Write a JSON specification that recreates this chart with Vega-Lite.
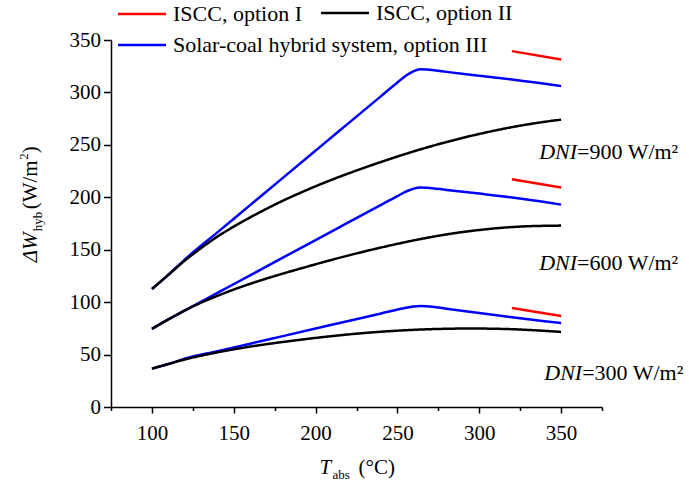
{
  "$schema": "https://vega.github.io/schema/vega-lite/v6.json",
  "width": 491,
  "height": 367,
  "autosize": {"type": "none"},
  "padding": {"left": 111, "top": 40, "right": 87, "bottom": 81},
  "background": "white",
  "config": {
    "view": {"stroke": null},
    "font": "Liberation Serif",
    "axis": {
      "labelFont": "Liberation Serif",
      "labelFontSize": 21,
      "labelColor": "black",
      "domainColor": "black",
      "domainWidth": 1.5,
      "tickColor": "black",
      "tickWidth": 1.5,
      "grid": false,
      "title": null
    },
    "legend": {
      "orient": "none",
      "direction": "vertical",
      "symbolType": "M-3,0H3",
      "symbolSize": 256,
      "symbolStrokeWidth": 2.5,
      "labelFont": "Liberation Serif",
      "labelFontSize": 22,
      "labelColor": "black",
      "labelLimit": 0,
      "rowPadding": 9,
      "labelOffset": 20,
      "padding": 0
    }
  },
  "datasets": {
    "lines": [
      {"T":100,"v":112.5,"dni":900,"option":"Solar-coal hybrid system, option III"},
      {"T":110,"v":126,"dni":900,"option":"Solar-coal hybrid system, option III"},
      {"T":120,"v":140.5,"dni":900,"option":"Solar-coal hybrid system, option III"},
      {"T":140,"v":166.5,"dni":900,"option":"Solar-coal hybrid system, option III"},
      {"T":160,"v":192.5,"dni":900,"option":"Solar-coal hybrid system, option III"},
      {"T":180,"v":218.5,"dni":900,"option":"Solar-coal hybrid system, option III"},
      {"T":200,"v":244.5,"dni":900,"option":"Solar-coal hybrid system, option III"},
      {"T":220,"v":270.5,"dni":900,"option":"Solar-coal hybrid system, option III"},
      {"T":240,"v":296.5,"dni":900,"option":"Solar-coal hybrid system, option III"},
      {"T":250,"v":309.5,"dni":900,"option":"Solar-coal hybrid system, option III"},
      {"T":256,"v":316.8,"dni":900,"option":"Solar-coal hybrid system, option III"},
      {"T":260,"v":320.3,"dni":900,"option":"Solar-coal hybrid system, option III"},
      {"T":264,"v":322,"dni":900,"option":"Solar-coal hybrid system, option III"},
      {"T":268,"v":321.8,"dni":900,"option":"Solar-coal hybrid system, option III"},
      {"T":280,"v":319.6,"dni":900,"option":"Solar-coal hybrid system, option III"},
      {"T":300,"v":316,"dni":900,"option":"Solar-coal hybrid system, option III"},
      {"T":320,"v":312.4,"dni":900,"option":"Solar-coal hybrid system, option III"},
      {"T":340,"v":308.3,"dni":900,"option":"Solar-coal hybrid system, option III"},
      {"T":350,"v":306,"dni":900,"option":"Solar-coal hybrid system, option III"},

      {"T":100,"v":74.5,"dni":600,"option":"Solar-coal hybrid system, option III"},
      {"T":110,"v":83.5,"dni":600,"option":"Solar-coal hybrid system, option III"},
      {"T":120,"v":92,"dni":600,"option":"Solar-coal hybrid system, option III"},
      {"T":140,"v":108.8,"dni":600,"option":"Solar-coal hybrid system, option III"},
      {"T":160,"v":125.6,"dni":600,"option":"Solar-coal hybrid system, option III"},
      {"T":180,"v":142.4,"dni":600,"option":"Solar-coal hybrid system, option III"},
      {"T":200,"v":159.2,"dni":600,"option":"Solar-coal hybrid system, option III"},
      {"T":220,"v":176,"dni":600,"option":"Solar-coal hybrid system, option III"},
      {"T":240,"v":192.8,"dni":600,"option":"Solar-coal hybrid system, option III"},
      {"T":250,"v":201.2,"dni":600,"option":"Solar-coal hybrid system, option III"},
      {"T":256,"v":206,"dni":600,"option":"Solar-coal hybrid system, option III"},
      {"T":260,"v":208.3,"dni":600,"option":"Solar-coal hybrid system, option III"},
      {"T":264,"v":209.4,"dni":600,"option":"Solar-coal hybrid system, option III"},
      {"T":268,"v":209.2,"dni":600,"option":"Solar-coal hybrid system, option III"},
      {"T":280,"v":207,"dni":600,"option":"Solar-coal hybrid system, option III"},
      {"T":300,"v":203.5,"dni":600,"option":"Solar-coal hybrid system, option III"},
      {"T":320,"v":199.8,"dni":600,"option":"Solar-coal hybrid system, option III"},
      {"T":340,"v":195.5,"dni":600,"option":"Solar-coal hybrid system, option III"},
      {"T":350,"v":193,"dni":600,"option":"Solar-coal hybrid system, option III"},

      {"T":100,"v":36.6,"dni":300,"option":"Solar-coal hybrid system, option III"},
      {"T":110,"v":41,"dni":300,"option":"Solar-coal hybrid system, option III"},
      {"T":120,"v":46,"dni":300,"option":"Solar-coal hybrid system, option III"},
      {"T":140,"v":53.2,"dni":300,"option":"Solar-coal hybrid system, option III"},
      {"T":160,"v":60.4,"dni":300,"option":"Solar-coal hybrid system, option III"},
      {"T":180,"v":67.6,"dni":300,"option":"Solar-coal hybrid system, option III"},
      {"T":200,"v":74.8,"dni":300,"option":"Solar-coal hybrid system, option III"},
      {"T":220,"v":82,"dni":300,"option":"Solar-coal hybrid system, option III"},
      {"T":240,"v":89.2,"dni":300,"option":"Solar-coal hybrid system, option III"},
      {"T":256,"v":94.8,"dni":300,"option":"Solar-coal hybrid system, option III"},
      {"T":260,"v":95.9,"dni":300,"option":"Solar-coal hybrid system, option III"},
      {"T":264,"v":96.4,"dni":300,"option":"Solar-coal hybrid system, option III"},
      {"T":268,"v":96.1,"dni":300,"option":"Solar-coal hybrid system, option III"},
      {"T":280,"v":93.7,"dni":300,"option":"Solar-coal hybrid system, option III"},
      {"T":300,"v":89.6,"dni":300,"option":"Solar-coal hybrid system, option III"},
      {"T":320,"v":85.6,"dni":300,"option":"Solar-coal hybrid system, option III"},
      {"T":340,"v":81.8,"dni":300,"option":"Solar-coal hybrid system, option III"},
      {"T":350,"v":80,"dni":300,"option":"Solar-coal hybrid system, option III"},

      {"T":100,"v":112.5,"dni":900,"option":"ISCC, option II"},
      {"T":110,"v":126,"dni":900,"option":"ISCC, option II"},
      {"T":120,"v":139.5,"dni":900,"option":"ISCC, option II"},
      {"T":130,"v":151.5,"dni":900,"option":"ISCC, option II"},
      {"T":140,"v":162.5,"dni":900,"option":"ISCC, option II"},
      {"T":150,"v":172,"dni":900,"option":"ISCC, option II"},
      {"T":160,"v":180.8,"dni":900,"option":"ISCC, option II"},
      {"T":170,"v":189,"dni":900,"option":"ISCC, option II"},
      {"T":180,"v":196.7,"dni":900,"option":"ISCC, option II"},
      {"T":190,"v":203.8,"dni":900,"option":"ISCC, option II"},
      {"T":200,"v":210.5,"dni":900,"option":"ISCC, option II"},
      {"T":210,"v":216.8,"dni":900,"option":"ISCC, option II"},
      {"T":220,"v":222.7,"dni":900,"option":"ISCC, option II"},
      {"T":230,"v":228.3,"dni":900,"option":"ISCC, option II"},
      {"T":240,"v":233.7,"dni":900,"option":"ISCC, option II"},
      {"T":250,"v":238.9,"dni":900,"option":"ISCC, option II"},
      {"T":260,"v":243.8,"dni":900,"option":"ISCC, option II"},
      {"T":270,"v":248.4,"dni":900,"option":"ISCC, option II"},
      {"T":280,"v":252.7,"dni":900,"option":"ISCC, option II"},
      {"T":290,"v":256.7,"dni":900,"option":"ISCC, option II"},
      {"T":300,"v":260.4,"dni":900,"option":"ISCC, option II"},
      {"T":310,"v":263.8,"dni":900,"option":"ISCC, option II"},
      {"T":320,"v":266.9,"dni":900,"option":"ISCC, option II"},
      {"T":330,"v":269.6,"dni":900,"option":"ISCC, option II"},
      {"T":340,"v":272,"dni":900,"option":"ISCC, option II"},
      {"T":350,"v":274,"dni":900,"option":"ISCC, option II"},

      {"T":100,"v":74.5,"dni":600,"option":"ISCC, option II"},
      {"T":110,"v":83.5,"dni":600,"option":"ISCC, option II"},
      {"T":120,"v":92,"dni":600,"option":"ISCC, option II"},
      {"T":130,"v":99.5,"dni":600,"option":"ISCC, option II"},
      {"T":140,"v":106,"dni":600,"option":"ISCC, option II"},
      {"T":150,"v":112,"dni":600,"option":"ISCC, option II"},
      {"T":160,"v":117.5,"dni":600,"option":"ISCC, option II"},
      {"T":170,"v":122.5,"dni":600,"option":"ISCC, option II"},
      {"T":180,"v":127.2,"dni":600,"option":"ISCC, option II"},
      {"T":190,"v":131.7,"dni":600,"option":"ISCC, option II"},
      {"T":200,"v":136.1,"dni":600,"option":"ISCC, option II"},
      {"T":210,"v":140.4,"dni":600,"option":"ISCC, option II"},
      {"T":220,"v":144.5,"dni":600,"option":"ISCC, option II"},
      {"T":230,"v":148.4,"dni":600,"option":"ISCC, option II"},
      {"T":240,"v":152.1,"dni":600,"option":"ISCC, option II"},
      {"T":250,"v":155.6,"dni":600,"option":"ISCC, option II"},
      {"T":260,"v":158.9,"dni":600,"option":"ISCC, option II"},
      {"T":270,"v":161.9,"dni":600,"option":"ISCC, option II"},
      {"T":280,"v":164.6,"dni":600,"option":"ISCC, option II"},
      {"T":290,"v":166.9,"dni":600,"option":"ISCC, option II"},
      {"T":300,"v":168.8,"dni":600,"option":"ISCC, option II"},
      {"T":310,"v":170.4,"dni":600,"option":"ISCC, option II"},
      {"T":320,"v":171.6,"dni":600,"option":"ISCC, option II"},
      {"T":330,"v":172.4,"dni":600,"option":"ISCC, option II"},
      {"T":340,"v":172.8,"dni":600,"option":"ISCC, option II"},
      {"T":350,"v":173,"dni":600,"option":"ISCC, option II"},

      {"T":100,"v":36.6,"dni":300,"option":"ISCC, option II"},
      {"T":110,"v":41,"dni":300,"option":"ISCC, option II"},
      {"T":120,"v":45.3,"dni":300,"option":"ISCC, option II"},
      {"T":130,"v":48.9,"dni":300,"option":"ISCC, option II"},
      {"T":140,"v":52.1,"dni":300,"option":"ISCC, option II"},
      {"T":150,"v":55,"dni":300,"option":"ISCC, option II"},
      {"T":160,"v":57.6,"dni":300,"option":"ISCC, option II"},
      {"T":170,"v":59.9,"dni":300,"option":"ISCC, option II"},
      {"T":180,"v":62,"dni":300,"option":"ISCC, option II"},
      {"T":190,"v":64,"dni":300,"option":"ISCC, option II"},
      {"T":200,"v":65.9,"dni":300,"option":"ISCC, option II"},
      {"T":210,"v":67.6,"dni":300,"option":"ISCC, option II"},
      {"T":220,"v":69.2,"dni":300,"option":"ISCC, option II"},
      {"T":230,"v":70.6,"dni":300,"option":"ISCC, option II"},
      {"T":240,"v":71.8,"dni":300,"option":"ISCC, option II"},
      {"T":250,"v":72.8,"dni":300,"option":"ISCC, option II"},
      {"T":260,"v":73.6,"dni":300,"option":"ISCC, option II"},
      {"T":270,"v":74.2,"dni":300,"option":"ISCC, option II"},
      {"T":280,"v":74.6,"dni":300,"option":"ISCC, option II"},
      {"T":290,"v":74.8,"dni":300,"option":"ISCC, option II"},
      {"T":300,"v":74.8,"dni":300,"option":"ISCC, option II"},
      {"T":310,"v":74.6,"dni":300,"option":"ISCC, option II"},
      {"T":320,"v":74.2,"dni":300,"option":"ISCC, option II"},
      {"T":330,"v":73.5,"dni":300,"option":"ISCC, option II"},
      {"T":340,"v":72.6,"dni":300,"option":"ISCC, option II"},
      {"T":350,"v":71.6,"dni":300,"option":"ISCC, option II"},

      {"T":320,"v":339.4,"dni":900,"option":"ISCC, option I"},
      {"T":350,"v":331.5,"dni":900,"option":"ISCC, option I"},
      {"T":320,"v":217.3,"dni":600,"option":"ISCC, option I"},
      {"T":350,"v":209.4,"dni":600,"option":"ISCC, option I"},
      {"T":320,"v":94.5,"dni":300,"option":"ISCC, option I"},
      {"T":350,"v":86.8,"dni":300,"option":"ISCC, option I"}
    ],
    "labels": [
      {"T":359.8,"v":243,"label":"=900 W/m²"},
      {"T":359.8,"v":137,"label":"=600 W/m²"},
      {"T":362.9,"v":32.1,"label":"=300 W/m²"}
    ]
  },
  "layer": [
    {
      "data": {"name": "lines"},
      "transform": [{"filter": "datum.option === 'Solar-coal hybrid system, option III'"}],
      "mark": {"type": "line", "strokeWidth": 2.5, "interpolate": "monotone"},
      "encoding": {
        "x": {"field": "T", "type": "quantitative",
              "scale": {"domain": [75, 375], "nice": false, "zero": false},
              "axis": {"values": [75,100,125,150,175,200,225,250,275,300,325,350,375],
                       "labelExpr": "datum.value % 50 === 0 ? datum.label : ''",
                       "tickSize": {"condition": {"test": "datum.value % 50 !== 0", "value": 3.5}, "value": 6},
                       "labelPadding": 9, "labelFlush": false, "labelOverlap": false}},
        "y": {"field": "v", "type": "quantitative",
              "scale": {"domain": [0, 350], "nice": false},
              "axis": {"values": [0,25,50,75,100,125,150,175,200,225,250,275,300,325,350],
                       "labelExpr": "datum.value % 50 === 0 ? datum.label : ''",
                       "tickSize": {"condition": {"test": "datum.value % 50 !== 0", "value": 4}, "value": 7.5},
                       "labelPadding": 3, "labelFlush": false, "labelOverlap": false}},
        "color": {"field": "option", "type": "nominal",
                  "scale": {"domain": ["ISCC, option I", "Solar-coal hybrid system, option III"],
                            "range": ["#ff0000", "#0000ff"]},
                  "legend": {"title": null, "legendX": 20, "legendY": -37}},
        "detail": {"field": "dni"}
      }
    },
    {
      "data": {"name": "lines"},
      "transform": [{"filter": "datum.option === 'ISCC, option II'"}],
      "mark": {"type": "line", "strokeWidth": 2.5, "interpolate": "monotone", "color": "black"},
      "encoding": {
        "x": {"field": "T", "type": "quantitative"},
        "y": {"field": "v", "type": "quantitative"},
        "strokeDash": {"field": "option", "type": "nominal",
                       "scale": {"domain": ["ISCC, option II"], "range": [[1, 0]]},
                       "legend": {"title": null, "legendX": 223, "legendY": -38, "symbolStrokeColor": "black"}},
        "detail": {"field": "dni"}
      }
    },
    {
      "data": {"name": "lines"},
      "transform": [{"filter": "datum.option === 'ISCC, option I'"}],
      "mark": {"type": "line", "strokeWidth": 2.5},
      "encoding": {
        "x": {"field": "T", "type": "quantitative"},
        "y": {"field": "v", "type": "quantitative"},
        "color": {"field": "option", "type": "nominal"},
        "detail": {"field": "dni"}
      }
    },
    {
      "data": {"name": "labels"},
      "mark": {"type": "text", "font": "Liberation Serif", "fontSize": 22, "fontStyle": "italic", "align": "right", "baseline": "middle", "color": "black"},
      "encoding": {
        "x": {"field": "T", "type": "quantitative"},
        "y": {"field": "v", "type": "quantitative"},
        "text": {"value": "DNI"}
      }
    },
    {
      "data": {"name": "labels"},
      "mark": {"type": "text", "font": "Liberation Serif", "fontSize": 22, "align": "left", "baseline": "middle", "color": "black"},
      "encoding": {
        "x": {"field": "T", "type": "quantitative"},
        "y": {"field": "v", "type": "quantitative"},
        "text": {"field": "label"}
      }
    },
    {
      "data": {"values": [{}]},
      "mark": {"type": "text", "font": "Liberation Serif", "fontSize": 21, "fontStyle": "italic", "align": "left", "baseline": "alphabetic", "color": "black"},
      "encoding": {"x": {"datum": 202.4}, "y": {"datum": -64}, "text": {"value": "T"}}
    },
    {
      "data": {"values": [{}]},
      "mark": {"type": "text", "font": "Liberation Serif", "fontSize": 13, "align": "left", "baseline": "alphabetic", "color": "black", "dx": 13, "dy": 5},
      "encoding": {"x": {"datum": 202.4}, "y": {"datum": -64}, "text": {"value": "abs"}}
    },
    {
      "data": {"values": [{}]},
      "mark": {"type": "text", "font": "Liberation Serif", "fontSize": 21, "align": "left", "baseline": "alphabetic", "color": "black", "dx": 39},
      "encoding": {"x": {"datum": 202.4}, "y": {"datum": -64}, "text": {"value": "(°C)"}}
    },
    {
      "data": {"values": [{}]},
      "mark": {"type": "text", "font": "Liberation Serif", "fontSize": 21, "fontStyle": "italic", "align": "left", "baseline": "alphabetic", "angle": 270, "color": "black"},
      "encoding": {"x": {"datum": 29.9}, "y": {"datum": 138}, "text": {"value": "ΔW"}}
    },
    {
      "data": {"values": [{}]},
      "mark": {"type": "text", "font": "Liberation Serif", "fontSize": 13, "align": "left", "baseline": "alphabetic", "angle": 270, "color": "black", "dx": 31, "dy": 5},
      "encoding": {"x": {"datum": 29.9}, "y": {"datum": 138}, "text": {"value": "hyb"}}
    },
    {
      "data": {"values": [{}]},
      "mark": {"type": "text", "font": "Liberation Serif", "fontSize": 21, "align": "left", "baseline": "alphabetic", "angle": 270, "color": "black", "dx": 53},
      "encoding": {"x": {"datum": 29.9}, "y": {"datum": 138}, "text": {"value": "(W/m"}}
    },
    {
      "data": {"values": [{}]},
      "mark": {"type": "text", "font": "Liberation Serif", "fontSize": 13, "align": "left", "baseline": "alphabetic", "angle": 270, "color": "black", "dx": 102.5, "dy": -9},
      "encoding": {"x": {"datum": 29.9}, "y": {"datum": 138}, "text": {"value": "2"}}
    },
    {
      "data": {"values": [{}]},
      "mark": {"type": "text", "font": "Liberation Serif", "fontSize": 21, "align": "left", "baseline": "alphabetic", "angle": 270, "color": "black", "dx": 109},
      "encoding": {"x": {"datum": 29.9}, "y": {"datum": 138}, "text": {"value": ")"}}
    }
  ]
}
